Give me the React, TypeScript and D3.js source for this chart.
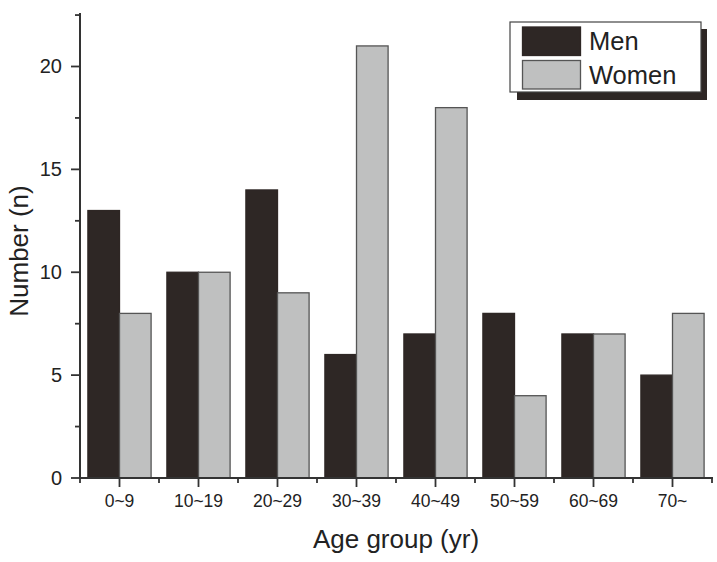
import React, { useEffect, useRef } from "react";
import * as d3 from "d3";

const categories = ["0~9", "10~19", "20~29", "30~39", "40~49", "50~59", "60~69", "70~"];
const menValues = [13, 10, 14, 6, 7, 8, 7, 5];
const womenValues = [8, 10, 9, 21, 18, 4, 7, 8];
const seriesNames = ["Men", "Women"];
const yTicks = [0, 5, 10, 15, 20];
const yMinorTicks = [2.5, 7.5, 12.5, 17.5, 22.5];

const W = 717;
const H = 562;
const FONT = "'Liberation Sans', Arial, Helvetica, sans-serif";
const MEN_COLOR = "#2e2725";
const WOMEN_COLOR = "#bfc0c0";
const AXIS_COLOR = "#333";

export default function App() {
  const ref = useRef<SVGSVGElement>(null);

  useEffect(() => {
    const svg = d3.select(ref.current);
    svg.selectAll("*").remove();

    const left = 80, right = 712, top = 13, bottom = 478;

    const x0 = d3.scaleBand<string>().domain(categories).range([left, right]).paddingInner(0.2).paddingOuter(0.1);
    const x1 = d3.scaleBand<string>().domain(seriesNames).range([0, x0.bandwidth()]);
    const y = d3.scaleLinear().domain([0, 22.6]).range([bottom, top]);
    const step = x0.step();

    svg.append("rect").attr("width", W).attr("height", H).attr("fill", "#fff");

    const data = categories.map((c, i) => ({ c, vals: [menValues[i], womenValues[i]] }));

    const g = svg.append("g");
    data.forEach((d) => {
      d.vals.forEach((v, j) => {
        g.append("rect")
          .attr("x", (x0(d.c) as number) + (x1(seriesNames[j]) as number))
          .attr("y", y(v))
          .attr("width", x1.bandwidth())
          .attr("height", y(0) - y(v))
          .attr("fill", j === 0 ? MEN_COLOR : WOMEN_COLOR)
          .attr("stroke", j === 0 ? MEN_COLOR : "#555")
          .attr("stroke-width", 1.3);
      });
    });

    // Y axis
    const yAxis = svg.append("g");
    yAxis.append("line").attr("x1", left).attr("x2", left).attr("y1", top).attr("y2", bottom + 1)
      .attr("stroke", AXIS_COLOR).attr("stroke-width", 2);
    yTicks.forEach((t) => {
      yAxis.append("line").attr("x1", left - 9).attr("x2", left).attr("y1", y(t)).attr("y2", y(t))
        .attr("stroke", AXIS_COLOR).attr("stroke-width", 1.8);
      yAxis.append("text").attr("x", 62).attr("y", y(t)).attr("dy", "0.35em")
        .attr("text-anchor", "end").attr("font-family", FONT).attr("font-size", 20)
        .attr("fill", "#222").text(String(t));
    });
    yMinorTicks.forEach((t) => {
      yAxis.append("line").attr("x1", left - 5).attr("x2", left).attr("y1", y(t)).attr("y2", y(t))
        .attr("stroke", AXIS_COLOR).attr("stroke-width", 1.8);
    });

    // X axis
    const xAxis = svg.append("g");
    xAxis.append("line").attr("x1", left - 1).attr("x2", right + 1).attr("y1", bottom).attr("y2", bottom)
      .attr("stroke", AXIS_COLOR).attr("stroke-width", 2);
    categories.forEach((c, i) => {
      const cx = (x0(c) as number) + x0.bandwidth() / 2;
      xAxis.append("line").attr("x1", cx).attr("x2", cx).attr("y1", bottom).attr("y2", bottom + 9)
        .attr("stroke", AXIS_COLOR).attr("stroke-width", 1.8);
      xAxis.append("text").attr("x", cx).attr("y", 507).attr("text-anchor", "middle")
        .attr("font-family", FONT).attr("font-size", 17.5).attr("fill", "#222").text(c);
      const bxs = i === 0 ? [cx - step / 2, cx + step / 2] : [cx + step / 2];
      bxs.forEach((bx) => {
        xAxis.append("line").attr("x1", bx).attr("x2", bx).attr("y1", bottom).attr("y2", bottom + 5)
          .attr("stroke", AXIS_COLOR).attr("stroke-width", 1.8);
      });
    });

    // Titles
    svg.append("text").attr("x", 396).attr("y", 548).attr("text-anchor", "middle")
      .attr("font-family", FONT).attr("font-size", 26).attr("fill", "#222").text("Age group (yr)");
    svg.append("text").attr("transform", "translate(28,251) rotate(-90)").attr("text-anchor", "middle")
      .attr("font-family", FONT).attr("font-size", 26).attr("fill", "#222").text("Number (n)");

    // Legend
    const lg = svg.append("g");
    lg.append("rect").attr("x", 517).attr("y", 29).attr("width", 190).attr("height", 71).attr("fill", MEN_COLOR);
    lg.append("rect").attr("x", 510).attr("y", 22).attr("width", 191).attr("height", 70)
      .attr("fill", "#fff").attr("stroke", "#444").attr("stroke-width", 1.2);
    seriesNames.forEach((name, j) => {
      const sy = 27 + j * 33.5;
      lg.append("rect").attr("x", 522.5).attr("y", sy).attr("width", 58).attr("height", 28.5)
        .attr("fill", j === 0 ? MEN_COLOR : WOMEN_COLOR)
        .attr("stroke", j === 0 ? MEN_COLOR : "#555").attr("stroke-width", 1.3);
      lg.append("text").attr("x", 589).attr("y", sy + 23).attr("font-family", FONT)
        .attr("font-size", 25.5).attr("fill", "#222").text(name);
    });
  }, []);

  return (
    <svg ref={ref} width={W} height={H} style={{ position: "absolute", left: 0, top: 0, display: "block" }} />
  );
}
